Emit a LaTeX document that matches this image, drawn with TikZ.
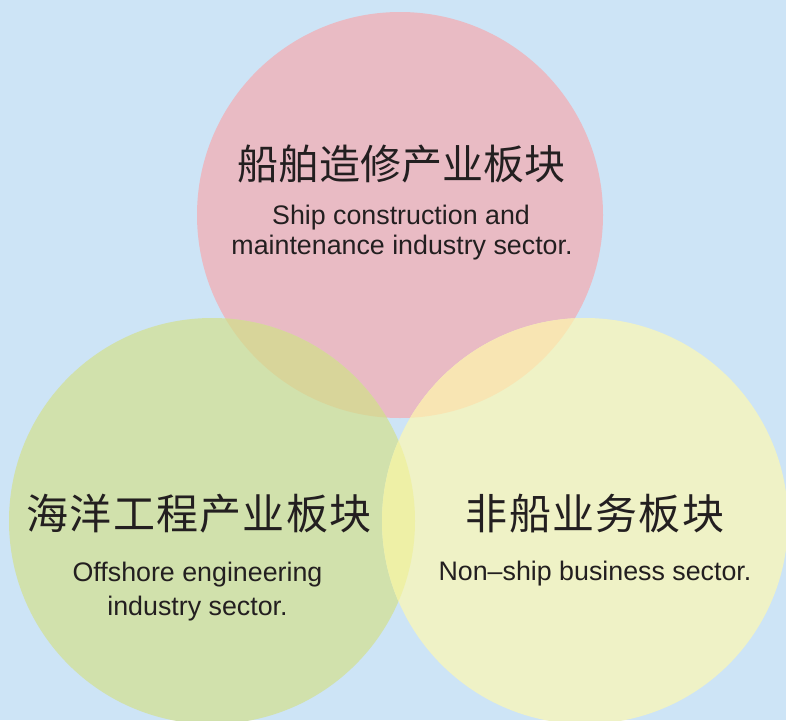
\documentclass[tikz,border=0pt]{standalone}
\usepackage{fontspec}
\setmainfont{Liberation Sans}
\newfontfamily\cjk{Noto Sans CJK SC}
\newfontfamily\cjkwide[LetterSpace=3]{Noto Sans CJK SC}
\definecolor{bgc}{HTML}{CDE4F6}
\definecolor{pinkc}{HTML}{E9BBC4}
\definecolor{greenc}{HTML}{D1E1AC}
\definecolor{yellowc}{HTML}{EFF2C6}
\definecolor{pgc}{HTML}{D8D59A}
\definecolor{pyc}{HTML}{F8E5B3}
\definecolor{gyc}{HTML}{EEF0A6}
\definecolor{txt}{HTML}{231F20}
\tikzset{
  title/.style={text=txt, inner sep=0pt, anchor=base, font=\cjk\fontsize{41}{41}\selectfont},
  titleb/.style={text=txt, inner sep=0pt, anchor=base, font=\cjkwide\fontsize{42}{42}\selectfont},
  sub/.style={text=txt, inner sep=0pt, anchor=base, font=\fontsize{26.8}{30}\selectfont}
}
\begin{document}
\begin{tikzpicture}[x=1pt,y=-1pt]
\fill[bgc] (0,0) rectangle (786,720);
\useasboundingbox (0,0) rectangle (786,720);
\coordinate (P) at (400,215);
\coordinate (G) at (212,521);
\coordinate (Y) at (585,521);
\fill[pinkc] (P) circle (203pt);
\fill[greenc] (G) circle (203pt);
\fill[yellowc] (Y) circle (203pt);
\begin{scope}
  \clip (P) circle (203pt);
  \fill[pgc] (G) circle (203pt);
  \fill[pyc] (Y) circle (203pt);
\end{scope}
\begin{scope}
  \clip (G) circle (203pt);
  \fill[gyc] (Y) circle (203pt);
\end{scope}
\node[title] (t1) at (401,179) {船舶造修产业板块};
\node[sub] (s1a) at (401,224.5) {Ship construction and};
\node[sub] (s1b) at (402,254) {maintenance industry sector.};
\node[titleb] (t2) at (199,529) {海洋工程产业板块};
\node[sub] (s2a) at (197.5,581.5) {Offshore engineering};
\node[sub] (s2b) at (197.5,615) {industry sector.};
\node[titleb] (t3) at (595,529) {非船业务板块};
\node[sub] (s3a) at (595,580.5) {Non–ship business sector.};
\end{tikzpicture}
\end{document}
